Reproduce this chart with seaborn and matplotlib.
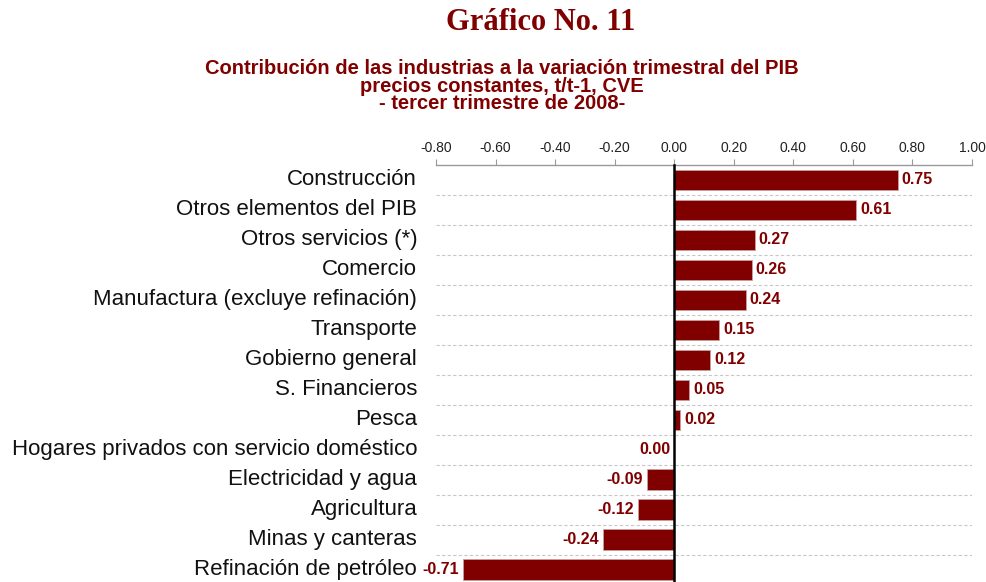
import numpy as np
import pandas as pd
import matplotlib
matplotlib.use("Agg")
import matplotlib.pyplot as plt
import seaborn as sns

# Datos del grafico
industrias = ["Construcción", "Otros elementos del PIB", "Otros servicios (*)", "Comercio",
              "Manufactura (excluye refinación)", "Transporte", "Gobierno general",
              "S. Financieros", "Pesca", "Hogares privados con servicio doméstico",
              "Electricidad y agua", "Agricultura", "Minas y canteras", "Refinación de petróleo"]
contribucion = [0.75, 0.61, 0.27, 0.26, 0.24, 0.15, 0.12, 0.05, 0.02, 0.00,
                -0.09, -0.12, -0.24, -0.71]
ticks_x = [-0.8, -0.6, -0.4, -0.2, 0.0, 0.2, 0.4, 0.6, 0.8, 1.0]

df = pd.DataFrame({"industria": industrias, "valor": contribucion})

sns.set_theme(style="white")
plt.rcParams["font.family"] = ["Liberation Sans", "DejaVu Sans"]

rojo = "#800000"
fig = plt.figure(figsize=(9.87, 5.82), dpi=100)
W, H = 987, 582
ax = fig.add_axes([436 / W, 1 - 586 / H, 536 / W, (586 - 165) / H])

sns.barplot(data=df, y="industria", x="valor", orient="h", color=rojo,
            width=0.68, saturation=1, ax=ax, edgecolor="#c9a0a0", linewidth=0.6)

n = len(industrias)
ax.set_xlim(-0.8, 1.0)
ax.set_ylim(n - 0.5 + 0.05, -0.5)
ax.set_xlabel("")
ax.set_ylabel("")

# eje superior
ax.xaxis.tick_top()
ax.set_xticks(ticks_x)
ax.set_xticklabels([f"{t:.2f}" for t in ticks_x], fontsize=10, color="#222222")
ax.tick_params(axis="x", direction="out", length=4, color="#999999", pad=3, width=0.8)
for s in ["right", "bottom"]:
    ax.spines[s].set_visible(False)
ax.spines["top"].set_color("#999999")
ax.spines["top"].set_linewidth(1.0)

# linea de cero
ax.spines["left"].set_position(("data", 0))
ax.spines["left"].set_color("black")
ax.spines["left"].set_linewidth(1.8)
ax.spines["left"].set_zorder(5)
ax.set_yticks(np.arange(n) + 0.5, minor=True)
ax.set_yticks(np.arange(n))
ax.set_yticklabels([])
ax.tick_params(axis="y", which="major", length=0)
ax.tick_params(axis="y", which="minor", direction="out", length=5, color="#555555", width=1)

# lineas punteadas entre categorias
for i in range(n - 1):
    ax.axhline(i + 0.5, color="#c8c8c8", linestyle=(0, (3, 2)), linewidth=0.8, zorder=0)

# etiquetas de categorias
for i, nombre in enumerate(industrias):
    ax.text(-0.035, i, nombre, transform=ax.get_yaxis_transform(), ha="right",
            va="center", fontsize=16, color="#111111")

# etiquetas de valor
for i, v in enumerate(contribucion):
    if v > 0:
        ax.text(v + 0.014, i, f"{v:.2f}", ha="left", va="center", fontsize=11.5,
                fontweight="bold", color=rojo)
    else:
        ax.text(v - 0.014, i, f"{v:.2f}", ha="right", va="center", fontsize=11.5,
                fontweight="bold", color=rojo)

fig.text(541 / W, 1 - 23 / H, "Gráfico No. 11", ha="center", va="center",
         fontsize=22, fontweight="bold", color=rojo, family=["Liberation Serif", "DejaVu Serif"])
subt = ["Contribución de las industrias a la variación trimestral del PIB",
        "precios constantes, t/t-1, CVE",
        "- tercer trimestre de 2008-"]
fig.text(502 / W, 1 - 86 / H, "\n".join(subt), ha="center", va="center",
         multialignment="center", linespacing=0.92,
         fontsize=14.5, fontweight="bold", color=rojo)

fig.savefig("out.png", dpi=100)
